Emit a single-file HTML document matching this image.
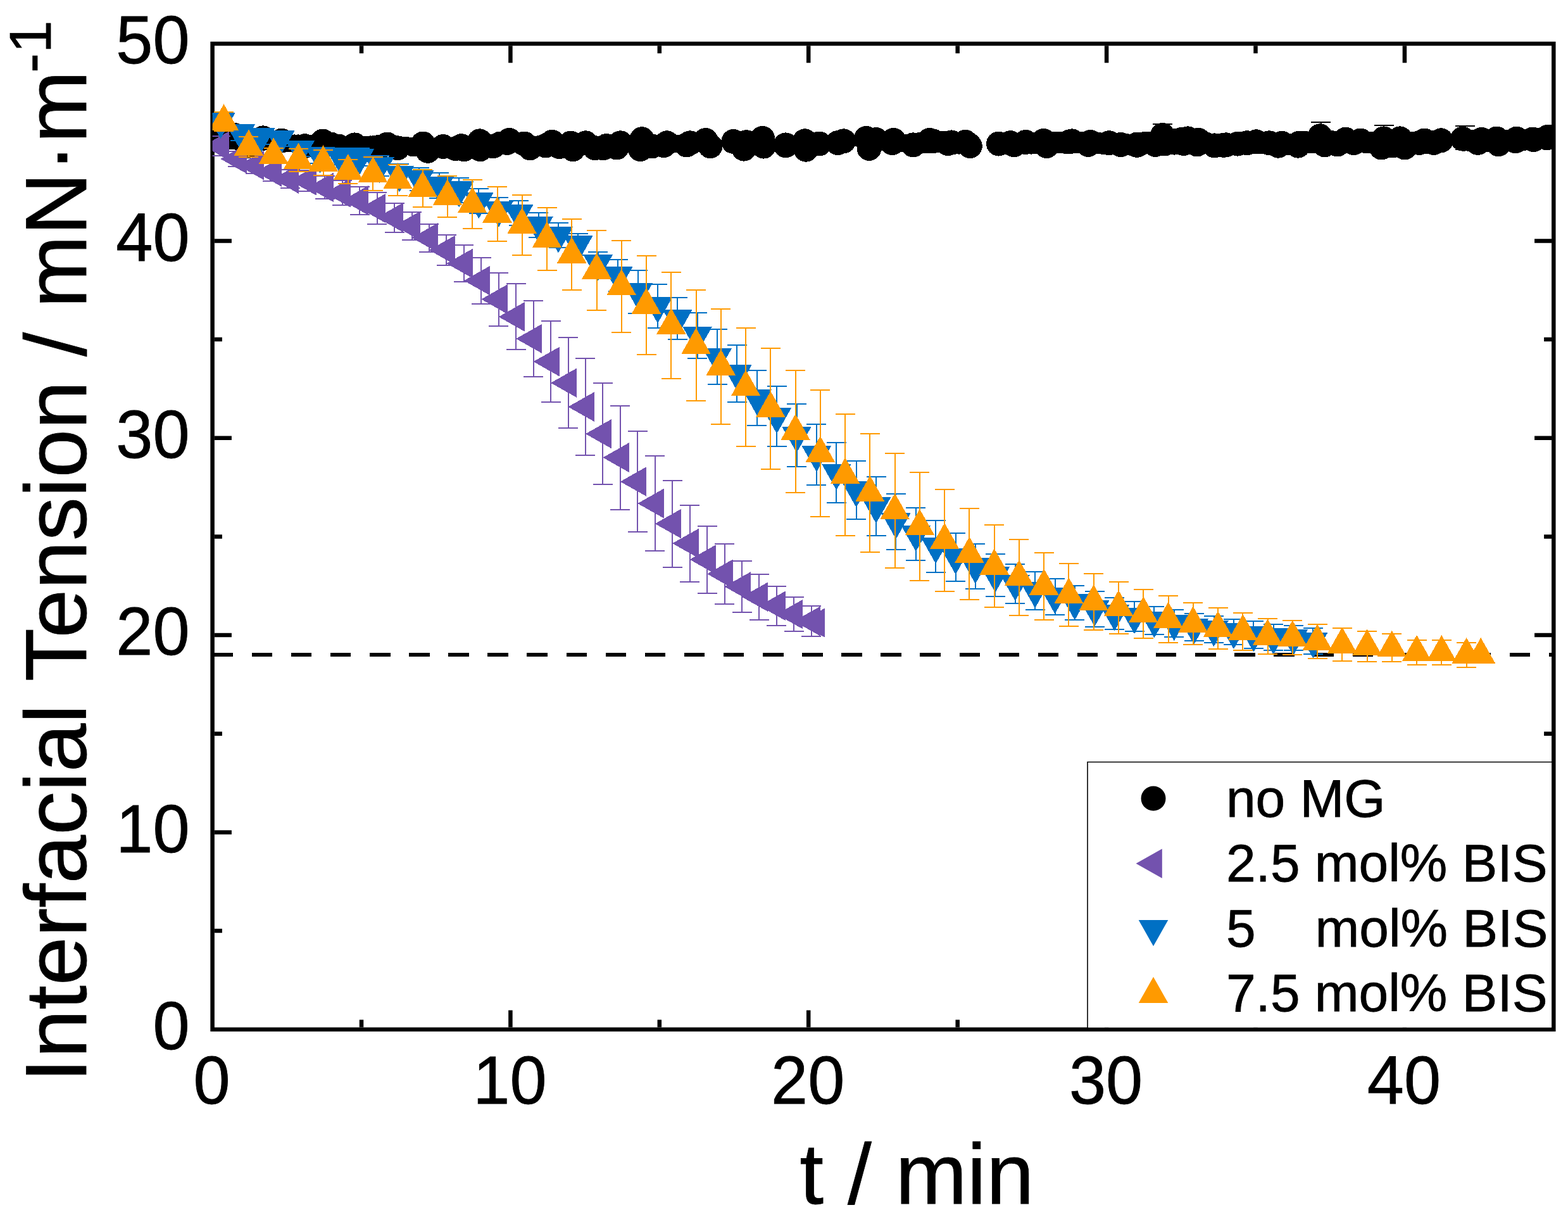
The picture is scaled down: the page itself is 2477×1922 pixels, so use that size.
<!DOCTYPE html>
<html><head><meta charset="utf-8"><title>Interfacial Tension vs time</title>
<style>html,body{margin:0;padding:0;background:#fff;overflow:hidden}svg{display:block}</style>
</head><body><svg width="2477" height="1922" viewBox="0 0 2477 1922"><defs><clipPath id="cp"><rect x="335.6" y="69.0" width="2118.7000000000003" height="1556.8"/></clipPath></defs><g stroke="#000" stroke-width="6.5" fill="none" stroke-linecap="square"><rect x="335.6" y="69.0" width="2118.7" height="1556.8" stroke-linecap="butt"/><path d="M571.0 1622.5v-12M571.0 72.2v12M806.4 1622.5v-27M806.4 72.2v27M1041.8 1622.5v-12M1041.8 72.2v12M1277.2 1622.5v-27M1277.2 72.2v27M1512.7 1622.5v-12M1512.7 72.2v12M1748.1 1622.5v-27M1748.1 72.2v27M1983.5 1622.5v-12M1983.5 72.2v12M2218.9 1622.5v-27M2218.9 72.2v27M338.9 1470.1h12M2451.1 1470.1h-12M338.9 1314.4h27M2451.1 1314.4h-27M338.9 1158.8h12M2451.1 1158.8h-12M338.9 1003.1h27M2451.1 1003.1h-27M338.9 847.4h12M2451.1 847.4h-12M338.9 691.7h27M2451.1 691.7h-27M338.9 536.0h12M2451.1 536.0h-12M338.9 380.4h27M2451.1 380.4h-27M338.9 224.7h12M2451.1 224.7h-12" stroke-linecap="butt"/></g><g clip-path="url(#cp)" shape-rendering="crispEdges"><line x1="335.6" y1="1033.9" x2="2454.3" y2="1033.9" stroke="#000" stroke-width="5.6" stroke-dasharray="32.5 29.6"/><path d="M1836.5 196.3V216.3M1821.0 196.3h31.0M2086.7 193.0V213.0M2071.2 193.0h31.0M2186.0 197.9V217.9M2170.5 197.9h31.0M2314.5 198.6V236.2M2299.0 198.6h31.0M2299.0 236.2h31.0" stroke="#000" stroke-width="2.0" fill="none"/><g fill="#000"><polygon points="369.8,213.3 415.6,217.9 444.9,222.1 481.5,230.7 509.9,223.0 560.3,228.9 611.6,228.0 668.3,227.0 728.8,230.7 757.7,222.8 804.4,221.5 828.2,227.0 872.2,224.3 901.5,226.1 925.3,225.8 980.2,225.8 1014.1,219.7 1053.5,225.8 1090.1,225.8 1114.8,221.5 1158.8,223.4 1178.9,224.7 1204.5,218.4 1241.2,229.8 1271.4,222.8 1294.3,227.0 1332.7,222.8 1368.5,218.4 1384.0,220.6 1411.5,221.5 1442.6,228.9 1468.3,221.5 1503.0,224.9 1525.0,224.4 1532.3,230.6 1497.5,226.6 1473.8,222.8 1442.6,228.9 1409.7,225.6 1373.0,234.4 1323.6,225.6 1273.2,236.2 1241.2,228.9 1206.4,231.1 1175.2,235.1 1122.1,230.7 1084.6,228.9 1011.4,235.7 952.7,233.8 905.1,235.7 837.4,233.8 758.6,235.7 733.0,235.7 719.6,234.7 675.7,238.3 628.0,233.8 390.0,231.0"/><polygon points="1577.5,227.0 1596.4,225.7 1620.2,224.4 1648.6,222.5 1689.8,223.8 1722.7,224.4 1752.0,225.7 1770.4,228.6 1796.0,228.0 1836.3,213.4 1865.6,220.7 1876.5,218.9 1893.0,221.3 1933.3,229.3 1955.2,227.1 1984.5,223.8 2024.8,226.2 2052.3,226.2 2085.3,214.8 2125.6,220.2 2149.4,222.0 2186.0,218.9 2211.6,218.9 2250.1,222.0 2276.4,221.8 2310.5,219.2 2340.3,220.4 2364.4,219.0 2395.6,219.2 2422.6,220.7 2445.3,216.1 2443.9,217.9 2421.2,220.0 2394.2,222.8 2367.2,227.8 2334.6,225.4 2265.0,225.4 2253.8,223.8 2242.3,225.4 2219.0,233.0 2182.3,233.0 2138.4,225.7 2112.7,228.0 2092.6,228.8 2050.5,230.2 2019.3,230.2 1969.9,225.7 1936.9,228.8 1918.6,229.9 1891.1,228.0 1854.6,225.1 1825.3,228.4 1796.0,229.3 1770.4,228.4 1719.1,228.4 1693.4,222.9 1653.2,230.6 1601.9,228.8"/><circle cx="345.0" cy="213.3" r="14.0"/><circle cx="351.0" cy="213.3" r="14.0"/><circle cx="357.0" cy="213.3" r="14.0"/><circle cx="363.0" cy="222.2" r="14.0"/><circle cx="369.0" cy="222.2" r="14.0"/><circle cx="375.0" cy="222.2" r="14.0"/><circle cx="381.0" cy="222.2" r="14.0"/><circle cx="387.0" cy="220.7" r="14.0"/><circle cx="393.0" cy="220.7" r="14.0"/><circle cx="399.0" cy="220.7" r="14.0"/><circle cx="405.0" cy="224.4" r="14.0"/><circle cx="411.0" cy="224.4" r="14.0"/><circle cx="417.0" cy="223.7" r="14.0"/><circle cx="423.0" cy="220.0" r="14.0"/><circle cx="429.0" cy="220.0" r="14.0"/><circle cx="435.0" cy="220.0" r="14.0"/><circle cx="441.0" cy="220.0" r="14.0"/><circle cx="447.0" cy="222.1" r="14.0"/><circle cx="453.0" cy="226.4" r="14.0"/><circle cx="459.0" cy="226.4" r="14.0"/><circle cx="465.0" cy="226.4" r="14.0"/><circle cx="471.0" cy="226.4" r="14.0"/><circle cx="477.0" cy="230.7" r="14.0"/><circle cx="483.0" cy="226.8" r="14.0"/><circle cx="489.0" cy="226.8" r="14.0"/><circle cx="495.0" cy="226.8" r="14.0"/><circle cx="501.0" cy="226.8" r="14.0"/><circle cx="507.0" cy="226.8" r="14.0"/><circle cx="513.0" cy="223.0" r="14.0"/><circle cx="519.0" cy="223.0" r="14.0"/><circle cx="525.0" cy="223.0" r="14.0"/><circle cx="531.0" cy="225.9" r="14.0"/><circle cx="537.0" cy="225.9" r="14.0"/><circle cx="543.0" cy="228.9" r="14.0"/><circle cx="549.0" cy="228.9" r="14.0"/><circle cx="555.0" cy="228.9" r="14.0"/><circle cx="561.0" cy="228.9" r="14.0"/><circle cx="567.0" cy="228.9" r="14.0"/><circle cx="573.0" cy="228.9" r="14.0"/><circle cx="579.0" cy="228.9" r="14.0"/><circle cx="585.0" cy="228.4" r="14.0"/><circle cx="591.0" cy="228.0" r="14.0"/><circle cx="597.0" cy="228.0" r="14.0"/><circle cx="603.0" cy="230.9" r="14.0"/><circle cx="609.0" cy="230.9" r="14.0"/><circle cx="615.0" cy="230.9" r="14.0"/><circle cx="621.0" cy="230.9" r="14.0"/><circle cx="627.0" cy="230.9" r="14.0"/><circle cx="633.0" cy="230.9" r="14.0"/><circle cx="639.0" cy="229.6" r="14.0"/><circle cx="645.0" cy="230.4" r="14.0"/><circle cx="651.0" cy="233.0" r="14.0"/><circle cx="657.0" cy="233.0" r="14.0"/><circle cx="663.0" cy="232.7" r="14.0"/><circle cx="669.0" cy="232.7" r="14.0"/><circle cx="675.0" cy="232.7" r="14.0"/><circle cx="681.0" cy="232.7" r="14.0"/><circle cx="687.0" cy="232.7" r="14.0"/><circle cx="693.0" cy="233.3" r="14.0"/><circle cx="699.0" cy="234.6" r="14.0"/><circle cx="705.0" cy="234.9" r="14.0"/><circle cx="711.0" cy="233.7" r="14.0"/><circle cx="717.0" cy="233.7" r="14.0"/><circle cx="723.0" cy="233.7" r="14.0"/><circle cx="729.0" cy="231.9" r="14.0"/><circle cx="735.0" cy="231.9" r="14.0"/><circle cx="741.0" cy="231.9" r="14.0"/><circle cx="747.0" cy="231.9" r="14.0"/><circle cx="753.0" cy="231.2" r="14.0"/><circle cx="759.0" cy="231.4" r="14.0"/><circle cx="765.0" cy="229.2" r="14.0"/><circle cx="771.0" cy="229.2" r="14.0"/><circle cx="777.0" cy="226.7" r="14.0"/><circle cx="783.0" cy="226.7" r="14.0"/><circle cx="789.0" cy="221.5" r="14.0"/><circle cx="795.0" cy="221.5" r="14.0"/><circle cx="801.0" cy="224.2" r="14.0"/><circle cx="807.0" cy="224.2" r="14.0"/><circle cx="813.0" cy="227.4" r="14.0"/><circle cx="819.0" cy="227.4" r="14.0"/><circle cx="825.0" cy="227.4" r="14.0"/><circle cx="831.0" cy="227.4" r="14.0"/><circle cx="837.0" cy="230.4" r="14.0"/><circle cx="843.0" cy="228.4" r="14.0"/><circle cx="849.0" cy="228.4" r="14.0"/><circle cx="855.0" cy="228.4" r="14.0"/><circle cx="861.0" cy="229.1" r="14.0"/><circle cx="867.0" cy="229.1" r="14.0"/><circle cx="873.0" cy="225.2" r="14.0"/><circle cx="879.0" cy="228.7" r="14.0"/><circle cx="885.0" cy="228.7" r="14.0"/><circle cx="891.0" cy="228.7" r="14.0"/><circle cx="897.0" cy="228.0" r="14.0"/><circle cx="903.0" cy="229.2" r="14.0"/><circle cx="909.0" cy="229.2" r="14.0"/><circle cx="915.0" cy="229.2" r="14.0"/><circle cx="921.0" cy="229.2" r="14.0"/><circle cx="927.0" cy="230.3" r="14.0"/><circle cx="933.0" cy="231.8" r="14.0"/><circle cx="939.0" cy="229.8" r="14.0"/><circle cx="945.0" cy="229.8" r="14.0"/><circle cx="951.0" cy="228.5" r="14.0"/><circle cx="957.0" cy="229.8" r="14.0"/><circle cx="963.0" cy="229.8" r="14.0"/><circle cx="969.0" cy="229.8" r="14.0"/><circle cx="975.0" cy="229.8" r="14.0"/><circle cx="981.0" cy="229.8" r="14.0"/><circle cx="987.0" cy="227.1" r="14.0"/><circle cx="993.0" cy="227.1" r="14.0"/><circle cx="999.0" cy="227.1" r="14.0"/><circle cx="1005.0" cy="227.1" r="14.0"/><circle cx="1011.0" cy="227.7" r="14.0"/><circle cx="1017.0" cy="227.7" r="14.0"/><circle cx="1023.0" cy="227.7" r="14.0"/><circle cx="1029.0" cy="227.1" r="14.0"/><circle cx="1035.0" cy="227.1" r="14.0"/><circle cx="1041.0" cy="227.1" r="14.0"/><circle cx="1047.0" cy="225.8" r="14.0"/><circle cx="1053.0" cy="225.8" r="14.0"/><circle cx="1059.0" cy="227.4" r="14.0"/><circle cx="1065.0" cy="226.8" r="14.0"/><circle cx="1071.0" cy="226.8" r="14.0"/><circle cx="1077.0" cy="226.8" r="14.0"/><circle cx="1083.0" cy="226.8" r="14.0"/><circle cx="1089.0" cy="225.4" r="14.0"/><circle cx="1095.0" cy="226.7" r="14.0"/><circle cx="1101.0" cy="226.7" r="14.0"/><circle cx="1107.0" cy="226.7" r="14.0"/><circle cx="1113.0" cy="226.7" r="14.0"/><circle cx="1119.0" cy="226.0" r="14.0"/><circle cx="1125.0" cy="226.1" r="14.0"/><circle cx="1155.0" cy="227.7" r="14.0"/><circle cx="1161.0" cy="227.7" r="14.0"/><circle cx="1167.0" cy="227.7" r="14.0"/><circle cx="1173.0" cy="227.7" r="14.0"/><circle cx="1179.0" cy="226.5" r="14.0"/><circle cx="1185.0" cy="226.5" r="14.0"/><circle cx="1191.0" cy="227.3" r="14.0"/><circle cx="1197.0" cy="227.3" r="14.0"/><circle cx="1203.0" cy="227.3" r="14.0"/><circle cx="1209.0" cy="224.8" r="14.0"/><circle cx="1239.0" cy="229.4" r="14.0"/><circle cx="1245.0" cy="229.4" r="14.0"/><circle cx="1251.0" cy="229.4" r="14.0"/><circle cx="1257.0" cy="229.4" r="14.0"/><circle cx="1263.0" cy="229.4" r="14.0"/><circle cx="1269.0" cy="228.9" r="14.0"/><circle cx="1275.0" cy="228.7" r="14.0"/><circle cx="1281.0" cy="228.7" r="14.0"/><circle cx="1287.0" cy="228.7" r="14.0"/><circle cx="1323.0" cy="225.1" r="14.0"/><circle cx="1329.0" cy="224.2" r="14.0"/><circle cx="1335.0" cy="224.2" r="14.0"/><circle cx="1365.0" cy="224.5" r="14.0"/><circle cx="1371.0" cy="224.5" r="14.0"/><circle cx="1377.0" cy="224.5" r="14.0"/><circle cx="1383.0" cy="224.1" r="14.0"/><circle cx="1389.0" cy="224.1" r="14.0"/><circle cx="1395.0" cy="224.1" r="14.0"/><circle cx="1401.0" cy="225.5" r="14.0"/><circle cx="1407.0" cy="222.6" r="14.0"/><circle cx="1413.0" cy="225.1" r="14.0"/><circle cx="1419.0" cy="226.2" r="14.0"/><circle cx="1425.0" cy="226.2" r="14.0"/><circle cx="1431.0" cy="226.2" r="14.0"/><circle cx="1437.0" cy="226.2" r="14.0"/><circle cx="1443.0" cy="226.4" r="14.0"/><circle cx="1449.0" cy="225.5" r="14.0"/><circle cx="1455.0" cy="225.5" r="17.0"/><circle cx="1461.0" cy="225.5" r="17.0"/><circle cx="1467.0" cy="225.5" r="17.0"/><circle cx="1473.0" cy="223.6" r="17.0"/><circle cx="1479.0" cy="223.9" r="17.0"/><circle cx="1485.0" cy="223.9" r="17.0"/><circle cx="1491.0" cy="223.9" r="17.0"/><circle cx="1497.0" cy="224.0" r="17.0"/><circle cx="1503.0" cy="225.9" r="17.0"/><circle cx="1509.0" cy="226.6" r="17.0"/><circle cx="1515.0" cy="226.6" r="17.0"/><circle cx="1521.0" cy="226.6" r="17.0"/><circle cx="1527.0" cy="226.6" r="17.0"/><circle cx="1533.0" cy="227.5" r="17.0"/><circle cx="1575.0" cy="227.2" r="17.0"/><circle cx="1581.0" cy="227.2" r="17.0"/><circle cx="1587.0" cy="227.2" r="17.0"/><circle cx="1593.0" cy="226.5" r="17.0"/><circle cx="1599.0" cy="226.5" r="17.0"/><circle cx="1605.0" cy="226.5" r="17.0"/><circle cx="1611.0" cy="226.3" r="17.0"/><circle cx="1617.0" cy="226.3" r="17.0"/><circle cx="1623.0" cy="225.3" r="17.0"/><circle cx="1629.0" cy="226.6" r="17.0"/><circle cx="1635.0" cy="225.8" r="17.0"/><circle cx="1641.0" cy="225.8" r="17.0"/><circle cx="1647.0" cy="225.8" r="17.0"/><circle cx="1653.0" cy="226.6" r="17.0"/><circle cx="1659.0" cy="226.6" r="17.0"/><circle cx="1665.0" cy="225.0" r="17.0"/><circle cx="1671.0" cy="225.0" r="17.0"/><circle cx="1677.0" cy="225.0" r="17.0"/><circle cx="1683.0" cy="225.8" r="17.0"/><circle cx="1689.0" cy="223.4" r="17.0"/><circle cx="1695.0" cy="224.9" r="17.0"/><circle cx="1701.0" cy="224.9" r="17.0"/><circle cx="1707.0" cy="224.9" r="17.0"/><circle cx="1713.0" cy="224.9" r="17.0"/><circle cx="1719.0" cy="224.9" r="17.0"/><circle cx="1725.0" cy="226.2" r="17.0"/><circle cx="1731.0" cy="226.2" r="17.0"/><circle cx="1737.0" cy="226.2" r="17.0"/><circle cx="1743.0" cy="227.1" r="17.0"/><circle cx="1749.0" cy="227.1" r="17.0"/><circle cx="1755.0" cy="227.6" r="17.0"/><circle cx="1761.0" cy="227.6" r="17.0"/><circle cx="1767.0" cy="228.0" r="17.0"/><circle cx="1773.0" cy="228.0" r="17.0"/><circle cx="1779.0" cy="228.0" r="17.0"/><circle cx="1785.0" cy="228.6" r="17.0"/><circle cx="1791.0" cy="228.6" r="17.0"/><circle cx="1797.0" cy="228.5" r="17.0"/><circle cx="1803.0" cy="228.6" r="17.0"/><circle cx="1809.0" cy="224.8" r="17.0"/><circle cx="1815.0" cy="224.8" r="17.0"/><circle cx="1821.0" cy="224.8" r="17.0"/><circle cx="1827.0" cy="222.3" r="17.0"/><circle cx="1833.0" cy="222.3" r="17.0"/><circle cx="1839.0" cy="221.9" r="17.0"/><circle cx="1845.0" cy="221.9" r="17.0"/><circle cx="1851.0" cy="221.3" r="17.0"/><circle cx="1857.0" cy="219.5" r="17.0"/><circle cx="1863.0" cy="221.2" r="17.0"/><circle cx="1869.0" cy="222.8" r="17.0"/><circle cx="1875.0" cy="222.8" r="17.0"/><circle cx="1881.0" cy="222.8" r="17.0"/><circle cx="1887.0" cy="222.2" r="17.0"/><circle cx="1893.0" cy="223.8" r="17.0"/><circle cx="1899.0" cy="224.5" r="17.0"/><circle cx="1905.0" cy="225.5" r="17.0"/><circle cx="1911.0" cy="227.5" r="17.0"/><circle cx="1917.0" cy="227.5" r="17.0"/><circle cx="1923.0" cy="229.3" r="17.0"/><circle cx="1929.0" cy="228.8" r="17.0"/><circle cx="1935.0" cy="228.8" r="17.0"/><circle cx="1941.0" cy="228.2" r="17.0"/><circle cx="1947.0" cy="228.2" r="17.0"/><circle cx="1953.0" cy="227.7" r="17.0"/><circle cx="1959.0" cy="226.9" r="17.0"/><circle cx="1965.0" cy="226.3" r="17.0"/><circle cx="1971.0" cy="225.5" r="17.0"/><circle cx="1977.0" cy="225.5" r="17.0"/><circle cx="1983.0" cy="225.5" r="17.0"/><circle cx="1989.0" cy="224.8" r="17.0"/><circle cx="1995.0" cy="226.5" r="17.0"/><circle cx="2001.0" cy="226.7" r="17.0"/><circle cx="2007.0" cy="226.7" r="17.0"/><circle cx="2013.0" cy="226.7" r="17.0"/><circle cx="2019.0" cy="228.2" r="17.0"/><circle cx="2025.0" cy="228.2" r="17.0"/><circle cx="2031.0" cy="228.2" r="17.0"/><circle cx="2037.0" cy="228.2" r="17.0"/><circle cx="2043.0" cy="228.2" r="17.0"/><circle cx="2049.0" cy="228.2" r="17.0"/><circle cx="2055.0" cy="228.2" r="17.0"/><circle cx="2061.0" cy="223.7" r="17.0"/><circle cx="2067.0" cy="225.0" r="17.0"/><circle cx="2073.0" cy="225.0" r="17.0"/><circle cx="2079.0" cy="225.0" r="17.0"/><circle cx="2085.0" cy="223.9" r="17.0"/><circle cx="2091.0" cy="223.9" r="17.0"/><circle cx="2097.0" cy="222.9" r="17.0"/><circle cx="2103.0" cy="222.9" r="17.0"/><circle cx="2109.0" cy="223.5" r="17.0"/><circle cx="2115.0" cy="223.5" r="17.0"/><circle cx="2121.0" cy="224.9" r="17.0"/><circle cx="2127.0" cy="224.0" r="17.0"/><circle cx="2133.0" cy="224.0" r="17.0"/><circle cx="2139.0" cy="224.0" r="17.0"/><circle cx="2145.0" cy="222.6" r="17.0"/><circle cx="2151.0" cy="222.6" r="17.0"/><circle cx="2157.0" cy="224.9" r="17.0"/><circle cx="2163.0" cy="224.9" r="17.0"/><circle cx="2169.0" cy="224.6" r="17.0"/><circle cx="2175.0" cy="224.6" r="17.0"/><circle cx="2181.0" cy="225.9" r="17.0"/><circle cx="2187.0" cy="223.6" r="17.0"/><circle cx="2193.0" cy="225.9" r="17.0"/><circle cx="2199.0" cy="225.9" r="17.0"/><circle cx="2205.0" cy="225.9" r="17.0"/><circle cx="2211.0" cy="225.9" r="17.0"/><circle cx="2217.0" cy="225.8" r="17.0"/><circle cx="2223.0" cy="224.8" r="17.0"/><circle cx="2229.0" cy="224.6" r="17.0"/><circle cx="2235.0" cy="224.6" r="17.0"/><circle cx="2241.0" cy="224.8" r="17.0"/><circle cx="2247.0" cy="225.2" r="17.0"/><circle cx="2253.0" cy="223.7" r="17.0"/><circle cx="2259.0" cy="223.7" r="17.0"/><circle cx="2265.0" cy="223.7" r="17.0"/><circle cx="2271.0" cy="223.7" r="17.0"/><circle cx="2277.0" cy="223.2" r="17.0"/><circle cx="2313.0" cy="221.7" r="17.0"/><circle cx="2319.0" cy="221.7" r="17.0"/><circle cx="2325.0" cy="221.7" r="17.0"/><circle cx="2331.0" cy="221.7" r="17.0"/><circle cx="2337.0" cy="221.0" r="17.0"/><circle cx="2343.0" cy="223.1" r="17.0"/><circle cx="2349.0" cy="223.1" r="17.0"/><circle cx="2355.0" cy="223.1" r="17.0"/><circle cx="2361.0" cy="223.1" r="17.0"/><circle cx="2367.0" cy="221.8" r="17.0"/><circle cx="2373.0" cy="222.2" r="17.0"/><circle cx="2379.0" cy="222.2" r="17.0"/><circle cx="2385.0" cy="222.2" r="17.0"/><circle cx="2391.0" cy="222.2" r="17.0"/><circle cx="2397.0" cy="222.1" r="17.0"/><circle cx="2403.0" cy="220.7" r="17.0"/><circle cx="2409.0" cy="220.7" r="17.0"/><circle cx="2415.0" cy="220.1" r="17.0"/><circle cx="2421.0" cy="219.5" r="17.0"/><circle cx="2427.0" cy="218.7" r="17.0"/><circle cx="2433.0" cy="218.7" r="17.0"/><circle cx="2439.0" cy="218.7" r="17.0"/><circle cx="2445.0" cy="218.7" r="17.0"/><circle cx="2451.0" cy="218.7" r="17.0"/><circle cx="369.8" cy="213.3" r="19.5"/><circle cx="390.0" cy="231.0" r="19.5"/><circle cx="415.6" cy="217.9" r="19.5"/><circle cx="444.9" cy="222.1" r="19.5"/><circle cx="481.5" cy="230.7" r="19.5"/><circle cx="509.9" cy="223.0" r="19.5"/><circle cx="560.3" cy="228.9" r="19.5"/><circle cx="600.0" cy="232.0" r="19.5"/><circle cx="611.6" cy="228.0" r="19.5"/><circle cx="628.0" cy="233.8" r="19.5"/><circle cx="668.3" cy="227.0" r="19.5"/><circle cx="675.7" cy="238.3" r="19.5"/><circle cx="700.0" cy="231.5" r="19.5"/><circle cx="719.6" cy="234.7" r="19.5"/><circle cx="728.8" cy="230.7" r="19.5"/><circle cx="733.0" cy="235.7" r="19.5"/><circle cx="757.7" cy="222.8" r="19.5"/><circle cx="758.6" cy="235.7" r="19.5"/><circle cx="779.0" cy="230.9" r="19.5"/><circle cx="801.0" cy="225.5" r="19.5"/><circle cx="804.4" cy="221.5" r="19.5"/><circle cx="828.2" cy="227.0" r="19.5"/><circle cx="837.4" cy="233.8" r="19.5"/><circle cx="862.0" cy="230.0" r="19.5"/><circle cx="872.2" cy="224.3" r="19.5"/><circle cx="883.6" cy="231.6" r="19.5"/><circle cx="901.5" cy="226.1" r="19.5"/><circle cx="905.1" cy="235.7" r="19.5"/><circle cx="925.3" cy="225.8" r="19.5"/><circle cx="940.0" cy="233.7" r="19.5"/><circle cx="952.7" cy="233.8" r="19.5"/><circle cx="958.0" cy="230.5" r="19.5"/><circle cx="974.3" cy="233.0" r="19.5"/><circle cx="980.2" cy="225.8" r="19.5"/><circle cx="1011.4" cy="235.7" r="19.5"/><circle cx="1014.1" cy="219.7" r="19.5"/><circle cx="1030.0" cy="231.0" r="19.5"/><circle cx="1048.5" cy="229.5" r="19.5"/><circle cx="1053.5" cy="225.8" r="19.5"/><circle cx="1084.6" cy="228.9" r="19.5"/><circle cx="1090.1" cy="225.8" r="19.5"/><circle cx="1114.8" cy="221.5" r="19.5"/><circle cx="1122.1" cy="230.7" r="19.5"/><circle cx="1158.8" cy="223.4" r="19.5"/><circle cx="1175.2" cy="235.1" r="19.5"/><circle cx="1178.9" cy="224.7" r="19.5"/><circle cx="1204.5" cy="218.4" r="19.5"/><circle cx="1206.4" cy="231.1" r="19.5"/><circle cx="1241.2" cy="228.9" r="19.5"/><circle cx="1241.2" cy="229.8" r="19.5"/><circle cx="1271.4" cy="222.8" r="19.5"/><circle cx="1273.2" cy="236.2" r="19.5"/><circle cx="1294.3" cy="227.0" r="19.5"/><circle cx="1323.6" cy="225.6" r="19.5"/><circle cx="1332.7" cy="222.8" r="19.5"/><circle cx="1368.5" cy="218.4" r="19.5"/><circle cx="1373.0" cy="234.4" r="19.5"/><circle cx="1384.0" cy="220.6" r="19.5"/><circle cx="1409.7" cy="225.6" r="19.5"/><circle cx="1411.5" cy="221.5" r="19.5"/><circle cx="1442.6" cy="228.9" r="19.5"/><circle cx="1442.6" cy="228.9" r="19.5"/><circle cx="1468.3" cy="221.5" r="19.5"/><circle cx="1473.8" cy="222.8" r="19.5"/><circle cx="1497.5" cy="226.6" r="19.5"/><circle cx="1503.0" cy="224.9" r="19.5"/><circle cx="1525.0" cy="224.4" r="19.5"/><circle cx="1532.3" cy="230.6" r="19.5"/><circle cx="1577.5" cy="227.0" r="19.5"/><circle cx="1596.4" cy="225.7" r="19.5"/><circle cx="1601.9" cy="228.8" r="19.5"/><circle cx="1620.2" cy="224.4" r="19.5"/><circle cx="1648.6" cy="222.5" r="19.5"/><circle cx="1653.2" cy="230.6" r="19.5"/><circle cx="1689.8" cy="223.8" r="19.5"/><circle cx="1693.4" cy="222.9" r="19.5"/><circle cx="1719.1" cy="228.4" r="19.5"/><circle cx="1722.7" cy="224.4" r="19.5"/><circle cx="1752.0" cy="225.7" r="19.5"/><circle cx="1770.4" cy="228.4" r="19.5"/><circle cx="1770.4" cy="228.6" r="19.5"/><circle cx="1796.0" cy="228.0" r="19.5"/><circle cx="1796.0" cy="229.3" r="19.5"/><circle cx="1825.3" cy="228.4" r="19.5"/><circle cx="1836.3" cy="213.4" r="19.5"/><circle cx="1840.0" cy="227.0" r="19.5"/><circle cx="1854.6" cy="225.1" r="19.5"/><circle cx="1865.6" cy="220.7" r="19.5"/><circle cx="1870.0" cy="226.5" r="19.5"/><circle cx="1876.5" cy="218.9" r="19.5"/><circle cx="1891.1" cy="228.0" r="19.5"/><circle cx="1893.0" cy="221.3" r="19.5"/><circle cx="1918.6" cy="229.9" r="19.5"/><circle cx="1933.3" cy="229.3" r="19.5"/><circle cx="1936.9" cy="228.8" r="19.5"/><circle cx="1955.2" cy="227.1" r="19.5"/><circle cx="1969.9" cy="225.7" r="19.5"/><circle cx="1984.5" cy="223.8" r="19.5"/><circle cx="2005.0" cy="225.8" r="19.5"/><circle cx="2019.3" cy="230.2" r="19.5"/><circle cx="2024.8" cy="226.2" r="19.5"/><circle cx="2050.5" cy="230.2" r="19.5"/><circle cx="2052.3" cy="226.2" r="19.5"/><circle cx="2085.3" cy="214.8" r="19.5"/><circle cx="2092.6" cy="228.8" r="19.5"/><circle cx="2112.7" cy="228.0" r="19.5"/><circle cx="2125.6" cy="220.2" r="19.5"/><circle cx="2138.4" cy="225.7" r="19.5"/><circle cx="2149.4" cy="222.0" r="19.5"/><circle cx="2182.3" cy="233.0" r="19.5"/><circle cx="2186.0" cy="218.9" r="19.5"/><circle cx="2200.0" cy="230.0" r="19.5"/><circle cx="2211.6" cy="218.9" r="19.5"/><circle cx="2219.0" cy="233.0" r="19.5"/><circle cx="2242.3" cy="225.4" r="19.5"/><circle cx="2250.1" cy="222.0" r="19.5"/><circle cx="2253.8" cy="223.8" r="19.5"/><circle cx="2265.0" cy="225.4" r="19.5"/><circle cx="2276.4" cy="221.8" r="19.5"/><circle cx="2310.5" cy="219.2" r="19.5"/><circle cx="2334.6" cy="225.4" r="19.5"/><circle cx="2340.3" cy="220.4" r="19.5"/><circle cx="2364.4" cy="219.0" r="19.5"/><circle cx="2367.2" cy="227.8" r="19.5"/><circle cx="2394.2" cy="222.8" r="19.5"/><circle cx="2395.6" cy="219.2" r="19.5"/><circle cx="2421.2" cy="220.0" r="19.5"/><circle cx="2422.6" cy="220.7" r="19.5"/><circle cx="2443.9" cy="217.9" r="19.5"/><circle cx="2445.3" cy="216.1" r="19.5"/></g><path d="M348.5 214.8V245.8M333.0 214.8h31.0M333.0 245.8h31.0M375.9 239.0V263.0M360.4 239.0h31.0M360.4 263.0h31.0M403.4 248.2V274.2M387.9 248.2h31.0M387.9 274.2h31.0M430.9 256.8V286.2M415.4 256.8h31.0M415.4 286.2h31.0M458.3 268.3V297.1M442.8 268.3h31.0M442.8 297.1h31.0M485.8 268.7V301.7M470.2 268.7h31.0M470.2 301.7h31.0M513.2 277.9V313.9M497.7 277.9h31.0M497.7 313.9h31.0M540.6 285.2V324.2M525.1 285.2h31.0M525.1 324.2h31.0M568.1 294.5V338.5M552.6 294.5h31.0M552.6 338.5h31.0M595.5 304.0V354.0M580.0 304.0h31.0M580.0 354.0h31.0M623.0 320.5V366.5M607.5 320.5h31.0M607.5 366.5h31.0M650.5 334.7V378.7M635.0 334.7h31.0M635.0 378.7h31.0M677.9 353.5V397.5M662.4 353.5h31.0M662.4 397.5h31.0M705.3 371.0V419.0M689.8 371.0h31.0M689.8 419.0h31.0M732.8 387.0V445.2M717.3 387.0h31.0M717.3 445.2h31.0M760.2 406.7V479.7M744.8 406.7h31.0M744.8 479.7h31.0M787.7 430.5V514.7M772.2 430.5h31.0M772.2 514.7h31.0M815.1 448.2V552.4M799.6 448.2h31.0M799.6 552.4h31.0M842.6 474.9V594.9M827.1 474.9h31.0M827.1 594.9h31.0M870.0 506.9V635.3M854.5 506.9h31.0M854.5 635.3h31.0M897.5 533.0V676.4M882.0 533.0h31.0M882.0 676.4h31.0M924.9 566.1V718.9M909.4 566.1h31.0M909.4 718.9h31.0M952.4 605.2V765.2M936.9 605.2h31.0M936.9 765.2h31.0M979.9 640.7V804.5M964.4 640.7h31.0M964.4 804.5h31.0M1007.3 681.0V840.2M991.8 681.0h31.0M991.8 840.2h31.0M1034.8 720.1V870.1M1019.2 720.1h31.0M1019.2 870.1h31.0M1062.2 758.7V895.5M1046.7 758.7h31.0M1046.7 895.5h31.0M1089.7 797.9V918.5M1074.2 797.9h31.0M1074.2 918.5h31.0M1117.1 830.5V936.9M1101.6 830.5h31.0M1101.6 936.9h31.0M1144.5 859.2V953.6M1129.0 859.2h31.0M1129.0 953.6h31.0M1172.0 885.8V967.0M1156.5 885.8h31.0M1156.5 967.0h31.0M1199.4 906.9V978.5M1183.9 906.9h31.0M1183.9 978.5h31.0M1226.9 926.0V987.6M1211.4 926.0h31.0M1211.4 987.6h31.0M1254.3 942.8V997.4M1238.8 942.8h31.0M1238.8 997.4h31.0M1281.8 956.6V1005.4M1266.3 956.6h31.0M1266.3 1005.4h31.0" stroke="#7352ae" stroke-width="2.0" fill="none"/><path d="M321.0 230.3L362.3 207.0V253.6ZM348.4 251.0L389.8 227.7V274.3ZM375.9 261.2L417.2 237.9V284.5ZM403.4 271.5L444.7 248.2V294.8ZM430.8 282.7L472.1 259.4V306.0ZM458.2 285.2L499.6 261.9V308.5ZM485.7 295.9L527.0 272.6V319.2ZM513.1 304.7L554.4 281.4V328.0ZM540.6 316.5L581.9 293.2V339.8ZM568.0 329.0L609.3 305.7V352.3ZM595.5 343.5L636.8 320.2V366.8ZM623.0 356.7L664.2 333.4V380.0ZM650.4 375.5L691.7 352.2V398.8ZM677.8 395.0L719.1 371.7V418.3ZM705.3 416.1L746.6 392.8V439.4ZM732.8 443.2L774.0 419.9V466.5ZM760.2 472.6L801.5 449.3V495.9ZM787.6 500.3L828.9 477.0V523.6ZM815.1 534.9L856.4 511.6V558.2ZM842.5 571.1L883.8 547.8V594.4ZM870.0 604.7L911.3 581.4V628.0ZM897.4 642.5L938.7 619.2V665.8ZM924.9 685.2L966.2 661.9V708.5ZM952.4 722.6L993.6 699.3V745.9ZM979.8 760.6L1021.1 737.3V783.9ZM1007.2 795.1L1048.5 771.8V818.4ZM1034.7 827.1L1076.0 803.8V850.4ZM1062.2 858.2L1103.5 834.9V881.5ZM1089.6 883.7L1130.9 860.4V907.0ZM1117.0 906.4L1158.3 883.1V929.7ZM1144.5 926.4L1185.8 903.1V949.7ZM1171.9 942.7L1213.2 919.4V966.0ZM1199.4 956.8L1240.7 933.5V980.1ZM1226.8 970.1L1268.1 946.8V993.4ZM1254.3 981.0L1295.6 957.7V1004.3ZM1262.0 983.6L1303.3 960.3V1006.9Z" fill="#7352ae"/><path d="M348.5 179.7V203.7M333.0 179.7h31.0M333.0 203.7h31.0M379.9 197.7V221.7M364.4 197.7h31.0M364.4 221.7h31.0M411.3 204.0V228.0M395.8 204.0h31.0M395.8 228.0h31.0M442.6 207.4V231.4M427.1 207.4h31.0M427.1 231.4h31.0M474.0 223.4V247.4M458.5 223.4h31.0M458.5 247.4h31.0M505.4 234.0V258.0M489.9 234.0h31.0M489.9 258.0h31.0M536.8 233.6V259.6M521.3 233.6h31.0M521.3 259.6h31.0M568.2 234.4V262.4M552.7 234.4h31.0M552.7 262.4h31.0M599.5 246.0V277.6M584.0 246.0h31.0M584.0 277.6h31.0M630.9 259.1V293.1M615.4 259.1h31.0M615.4 293.1h31.0M662.3 264.9V300.9M646.8 264.9h31.0M646.8 300.9h31.0M693.7 272.9V312.5M678.2 272.9h31.0M678.2 312.5h31.0M725.1 280.5V319.5M709.6 280.5h31.0M709.6 319.5h31.0M756.4 298.4V337.4M740.9 298.4h31.0M740.9 337.4h31.0M787.8 311.9V350.9M772.3 311.9h31.0M772.3 350.9h31.0M819.2 317.4V356.4M803.7 317.4h31.0M803.7 356.4h31.0M850.6 336.2V375.2M835.1 336.2h31.0M835.1 375.2h31.0M882.0 352.4V391.4M866.5 352.4h31.0M866.5 391.4h31.0M913.3 369.2V402.6M897.8 369.2h31.0M897.8 402.6h31.0M944.7 398.0V434.2M929.2 398.0h31.0M929.2 434.2h31.0M976.1 409.9V460.1M960.6 409.9h31.0M960.6 460.1h31.0M1007.5 427.1V495.1M992.0 427.1h31.0M992.0 495.1h31.0M1038.9 448.9V517.5M1023.4 448.9h31.0M1023.4 517.5h31.0M1070.2 470.1V536.1M1054.7 470.1h31.0M1054.7 536.1h31.0M1101.6 494.0V565.6M1086.1 494.0h31.0M1086.1 565.6h31.0M1133.0 519.8V607.0M1117.5 519.8h31.0M1117.5 607.0h31.0M1164.4 545.0V634.8M1148.9 545.0h31.0M1148.9 634.8h31.0M1195.8 584.8V672.0M1180.3 584.8h31.0M1180.3 672.0h31.0M1227.1 610.0V705.0M1211.6 610.0h31.0M1211.6 705.0h31.0M1258.5 637.9V737.1M1243.0 637.9h31.0M1243.0 737.1h31.0M1289.9 670.0V766.0M1274.4 670.0h31.0M1274.4 766.0h31.0M1321.3 699.1V793.9M1305.8 699.1h31.0M1305.8 793.9h31.0M1352.7 728.0V820.0M1337.2 728.0h31.0M1337.2 820.0h31.0M1384.0 752.5V845.9M1368.5 752.5h31.0M1368.5 845.9h31.0M1415.4 779.9V867.9M1399.9 779.9h31.0M1399.9 867.9h31.0M1446.8 802.3V884.9M1431.3 802.3h31.0M1431.3 884.9h31.0M1478.2 821.8V903.8M1462.7 821.8h31.0M1462.7 903.8h31.0M1509.6 841.6V918.0M1494.1 841.6h31.0M1494.1 918.0h31.0M1540.9 859.3V929.9M1525.4 859.3h31.0M1525.4 929.9h31.0M1572.3 874.9V941.7M1556.8 874.9h31.0M1556.8 941.7h31.0M1603.7 890.5V952.7M1588.2 890.5h31.0M1588.2 952.7h31.0M1635.1 902.7V963.1M1619.6 902.7h31.0M1619.6 963.1h31.0M1666.5 913.7V970.5M1651.0 913.7h31.0M1651.0 970.5h31.0M1697.8 924.9V978.9M1682.3 924.9h31.0M1682.3 978.9h31.0M1729.2 934.4V989.6M1713.7 934.4h31.0M1713.7 989.6h31.0M1760.6 944.0V994.0M1745.1 944.0h31.0M1745.1 994.0h31.0M1792.0 950.1V997.3M1776.5 950.1h31.0M1776.5 997.3h31.0M1823.4 957.5V1002.3M1807.9 957.5h31.0M1807.9 1002.3h31.0M1854.7 963.0V1006.4M1839.2 963.0h31.0M1839.2 1006.4h31.0M1886.1 968.5V1012.3M1870.6 968.5h31.0M1870.6 1012.3h31.0M1917.5 973.0V1014.6M1902.0 973.0h31.0M1902.0 1014.6h31.0M1948.9 977.7V1017.7M1933.4 977.7h31.0M1933.4 1017.7h31.0M1980.3 980.8V1023.8M1964.8 980.8h31.0M1964.8 1023.8h31.0M2011.6 985.9V1026.5M1996.1 985.9h31.0M1996.1 1026.5h31.0M2043.0 988.0V1027.4M2027.5 988.0h31.0M2027.5 1027.4h31.0M2074.4 991.7V1032.9M2058.9 991.7h31.0M2058.9 1032.9h31.0" stroke="#0070c4" stroke-width="2.0" fill="none"/><path d="M348.5 219.2L371.8 177.9H325.2ZM379.9 237.2L403.2 195.9H356.6ZM411.3 243.5L434.6 202.2H388.0ZM442.6 246.9L465.9 205.6H419.3ZM474.0 262.9L497.3 221.6H450.7ZM505.4 273.5L528.7 232.2H482.1ZM536.8 274.1L560.1 232.8H513.5ZM568.2 275.9L591.5 234.6H544.9ZM599.5 289.3L622.8 248.0H576.2ZM630.9 303.6L654.2 262.3H607.6ZM662.3 310.4L685.6 269.1H639.0ZM693.7 320.2L717.0 278.9H670.4ZM725.1 327.5L748.4 286.2H701.8ZM756.4 345.4L779.7 304.1H733.1ZM787.8 358.9L811.1 317.6H764.5ZM819.2 364.4L842.5 323.1H795.9ZM850.6 383.2L873.9 341.9H827.3ZM882.0 399.4L905.3 358.1H858.7ZM913.3 413.4L936.6 372.1H890.0ZM944.7 443.6L968.0 402.3H921.4ZM976.1 462.5L999.4 421.2H952.8ZM1007.5 488.6L1030.8 447.3H984.2ZM1038.9 510.7L1062.2 469.4H1015.6ZM1070.2 530.6L1093.5 489.3H1046.9ZM1101.6 557.3L1124.9 516.0H1078.3ZM1133.0 590.9L1156.3 549.6H1109.7ZM1164.4 617.4L1187.7 576.1H1141.1ZM1195.8 655.9L1219.1 614.6H1172.5ZM1227.1 685.0L1250.4 643.7H1203.8ZM1258.5 715.0L1281.8 673.7H1235.2ZM1289.9 745.5L1313.2 704.2H1266.6ZM1321.3 774.0L1344.6 732.7H1298.0ZM1352.7 801.5L1376.0 760.2H1329.4ZM1384.0 826.7L1407.3 785.4H1360.7ZM1415.4 851.4L1438.7 810.1H1392.1ZM1446.8 871.1L1470.1 829.8H1423.5ZM1478.2 890.3L1501.5 849.0H1454.9ZM1509.6 907.3L1532.9 866.0H1486.3ZM1540.9 922.1L1564.2 880.8H1517.6ZM1572.3 935.8L1595.6 894.5H1549.0ZM1603.7 949.1L1627.0 907.8H1580.4ZM1635.1 960.4L1658.4 919.1H1611.8ZM1666.5 969.6L1689.8 928.3H1643.2ZM1697.8 979.4L1721.1 938.1H1674.5ZM1729.2 989.5L1752.5 948.2H1705.9ZM1760.6 996.5L1783.9 955.2H1737.3ZM1792.0 1001.2L1815.3 959.9H1768.7ZM1823.4 1007.4L1846.7 966.1H1800.1ZM1854.7 1012.2L1878.0 970.9H1831.4ZM1886.1 1017.9L1909.4 976.6H1862.8ZM1917.5 1021.3L1940.8 980.0H1894.2ZM1948.9 1025.2L1972.2 983.9H1925.6ZM1980.3 1029.8L2003.6 988.5H1957.0ZM2011.6 1033.7L2034.9 992.4H1988.3ZM2043.0 1035.2L2066.3 993.9H2019.7ZM2074.4 1039.8L2097.7 998.5H2051.1Z" fill="#0070c4"/><path d="M353.6 176.7V206.7M338.1 176.7h31.0M338.1 206.7h31.0M392.9 215.9V247.9M377.4 215.9h31.0M377.4 247.9h31.0M432.1 233.8V255.8M416.6 233.8h31.0M416.6 255.8h31.0M471.4 234.9V270.9M455.9 234.9h31.0M455.9 270.9h31.0M510.6 236.7V276.7M495.1 236.7h31.0M495.1 276.7h31.0M549.9 251.5V289.5M534.4 251.5h31.0M534.4 289.5h31.0M589.2 247.9V301.1M573.7 247.9h31.0M573.7 301.1h31.0M628.4 260.2V309.0M612.9 260.2h31.0M612.9 309.0h31.0M667.7 267.9V326.7M652.2 267.9h31.0M652.2 326.7h31.0M706.9 277.9V343.1M691.4 277.9h31.0M691.4 343.1h31.0M746.2 283.7V361.3M730.7 283.7h31.0M730.7 361.3h31.0M785.5 294.5V381.1M770.0 294.5h31.0M770.0 381.1h31.0M824.7 307.9V402.5M809.2 307.9h31.0M809.2 402.5h31.0M864.0 327.8V426.8M848.5 327.8h31.0M848.5 426.8h31.0M903.2 345.8V457.8M887.7 345.8h31.0M887.7 457.8h31.0M942.5 364.0V489.6M927.0 364.0h31.0M927.0 489.6h31.0M981.8 380.1V524.7M966.3 380.1h31.0M966.3 524.7h31.0M1021.0 403.9V559.9M1005.5 403.9h31.0M1005.5 559.9h31.0M1060.3 430.4V597.6M1044.8 430.4h31.0M1044.8 597.6h31.0M1099.5 457.8V632.8M1084.0 457.8h31.0M1084.0 632.8h31.0M1138.8 488.1V669.9M1123.3 488.1h31.0M1123.3 669.9h31.0M1178.1 518.2V705.0M1162.6 518.2h31.0M1162.6 705.0h31.0M1217.3 549.7V740.7M1201.8 549.7h31.0M1201.8 740.7h31.0M1256.6 584.8V777.6M1241.1 584.8h31.0M1241.1 777.6h31.0M1295.8 616.1V816.1M1280.3 616.1h31.0M1280.3 816.1h31.0M1335.1 654.3V845.9M1319.6 654.3h31.0M1319.6 845.9h31.0M1374.4 685.4V871.8M1358.9 685.4h31.0M1358.9 871.8h31.0M1413.6 716.0V896.8M1398.1 716.0h31.0M1398.1 896.8h31.0M1452.9 745.8V917.0M1437.4 745.8h31.0M1437.4 917.0h31.0M1492.1 772.9V933.9M1476.6 772.9h31.0M1476.6 933.9h31.0M1531.4 802.9V947.3M1515.9 802.9h31.0M1515.9 947.3h31.0M1570.7 828.8V958.8M1555.2 828.8h31.0M1555.2 958.8h31.0M1609.9 851.6V971.6M1594.4 851.6h31.0M1594.4 971.6h31.0M1649.2 872.7V978.9M1633.7 872.7h31.0M1633.7 978.9h31.0M1688.4 890.4V988.8M1672.9 890.4h31.0M1672.9 988.8h31.0M1727.7 905.6V995.4M1712.2 905.6h31.0M1712.2 995.4h31.0M1767.0 918.5V1000.5M1751.5 918.5h31.0M1751.5 1000.5h31.0M1806.2 930.9V1007.9M1790.7 930.9h31.0M1790.7 1007.9h31.0M1845.5 941.0V1015.0M1830.0 941.0h31.0M1830.0 1015.0h31.0M1884.7 952.0V1017.8M1869.2 952.0h31.0M1869.2 1017.8h31.0M1924.0 960.1V1024.7M1908.5 960.1h31.0M1908.5 1024.7h31.0M1963.3 967.5V1027.1M1947.8 967.5h31.0M1947.8 1027.1h31.0M2002.5 977.0V1032.6M1987.0 977.0h31.0M1987.0 1032.6h31.0M2041.8 980.2V1033.8M2026.3 980.2h31.0M2026.3 1033.8h31.0M2081.0 985.9V1039.9M2065.5 985.9h31.0M2065.5 1039.9h31.0M2120.3 991.7V1043.9M2104.8 991.7h31.0M2104.8 1043.9h31.0M2159.6 997.2V1044.8M2144.1 997.2h31.0M2144.1 1044.8h31.0M2198.8 1001.2V1045.2M2183.3 1001.2h31.0M2183.3 1045.2h31.0M2238.1 1010.9V1049.9M2222.6 1010.9h31.0M2222.6 1049.9h31.0M2277.3 1010.9V1049.9M2261.8 1010.9h31.0M2261.8 1049.9h31.0M2316.6 1014.8V1054.0M2301.1 1014.8h31.0M2301.1 1054.0h31.0" stroke="#ff9a00" stroke-width="2.0" fill="none"/><path d="M353.6 164.2L376.9 205.5H330.3ZM392.9 204.4L416.2 245.7H369.6ZM432.1 217.3L455.4 258.6H408.8ZM471.4 225.4L494.7 266.7H448.1ZM510.6 229.2L533.9 270.5H487.3ZM549.9 243.0L573.2 284.3H526.6ZM589.2 247.0L612.5 288.3H565.9ZM628.4 257.1L651.7 298.4H605.1ZM667.7 269.8L691.0 311.1H644.4ZM706.9 283.0L730.2 324.3H683.6ZM746.2 295.0L769.5 336.3H722.9ZM785.5 310.3L808.8 351.6H762.2ZM824.7 327.7L848.0 369.0H801.4ZM864.0 349.8L887.3 391.1H840.7ZM903.2 374.3L926.5 415.6H879.9ZM942.5 399.3L965.8 440.6H919.2ZM981.8 424.9L1005.1 466.2H958.5ZM1021.0 454.4L1044.3 495.7H997.7ZM1060.3 486.5L1083.6 527.8H1037.0ZM1099.5 517.8L1122.8 559.1H1076.2ZM1138.8 551.5L1162.1 592.8H1115.5ZM1178.1 584.1L1201.4 625.4H1154.8ZM1217.3 617.7L1240.6 659.0H1194.0ZM1256.6 653.7L1279.9 695.0H1233.3ZM1295.8 688.6L1319.1 729.9H1272.5ZM1335.1 722.6L1358.4 763.9H1311.8ZM1374.4 751.1L1397.7 792.4H1351.1ZM1413.6 778.9L1436.9 820.2H1390.3ZM1452.9 803.9L1476.2 845.2H1429.6ZM1492.1 825.9L1515.4 867.2H1468.8ZM1531.4 847.6L1554.7 888.9H1508.1ZM1570.7 866.3L1594.0 907.6H1547.4ZM1609.9 884.1L1633.2 925.4H1586.6ZM1649.2 898.3L1672.5 939.6H1625.9ZM1688.4 912.1L1711.7 953.4H1665.1ZM1727.7 923.0L1751.0 964.3H1704.4ZM1767.0 932.0L1790.3 973.3H1743.7ZM1806.2 941.9L1829.5 983.2H1782.9ZM1845.5 950.5L1868.8 991.8H1822.2ZM1884.7 957.4L1908.0 998.7H1861.4ZM1924.0 964.9L1947.3 1006.2H1900.7ZM1963.3 969.8L1986.6 1011.1H1940.0ZM2002.5 977.3L2025.8 1018.6H1979.2ZM2041.8 979.5L2065.1 1020.8H2018.5ZM2081.0 985.4L2104.3 1026.7H2057.7ZM2120.3 990.3L2143.6 1031.6H2097.0ZM2159.6 993.5L2182.9 1034.8H2136.3ZM2198.8 995.7L2222.1 1037.0H2175.5ZM2238.1 1002.9L2261.4 1044.2H2214.8ZM2277.3 1002.9L2300.6 1044.2H2254.0ZM2316.6 1006.9L2339.9 1048.2H2293.3ZM2339.3 1007.1L2362.6 1048.4H2316.0Z" fill="#ff9a00"/></g><g font-family="Liberation Sans, Arial, sans-serif" stroke="#000" stroke-width="0.8" font-size="104.5" fill="#000"><text transform="translate(334.6,1742.9) scale(1,1.033)" text-anchor="middle">0</text><text transform="translate(805.4,1742.9) scale(1,1.033)" text-anchor="middle">10</text><text transform="translate(1276.2,1742.9) scale(1,1.033)" text-anchor="middle">20</text><text transform="translate(1747.1,1742.9) scale(1,1.033)" text-anchor="middle">30</text><text transform="translate(2217.9,1742.9) scale(1,1.033)" text-anchor="middle">40</text><text transform="translate(299.5,1657.1) scale(1,1.033)" text-anchor="end">0</text><text transform="translate(299.5,1345.7) scale(1,1.033)" text-anchor="end">10</text><text transform="translate(299.5,1034.4) scale(1,1.033)" text-anchor="end">20</text><text transform="translate(299.5,723.0) scale(1,1.033)" text-anchor="end">30</text><text transform="translate(299.5,411.7) scale(1,1.033)" text-anchor="end">40</text><text transform="translate(299.5,100.3) scale(1,1.033)" text-anchor="end">50</text></g><text x="1448.5" y="1900.8" font-family="Liberation Sans, Arial, sans-serif" stroke="#000" stroke-width="0.8" font-size="136" text-anchor="middle">t / min</text><text transform="translate(135.5,1709.5) rotate(-90)" font-family="Liberation Sans, Arial, sans-serif" stroke="#000" stroke-width="0.8" font-size="137.8">Interfacial Tension / mN·m</text><text transform="translate(80,115.0) rotate(-90)" font-family="Liberation Sans, Arial, sans-serif" stroke="#000" stroke-width="0.8" font-size="93">-1</text><rect x="1718" y="1203.5" width="733.05" height="419.05" fill="#fff"/><path d="M1718 1624V1203.5H2452" fill="none" stroke="#000" stroke-width="1.6"/><circle cx="1822" cy="1261" r="19.5" fill="#000"/><path d="M1794.5 1363.7L1835.8 1340.4V1387.0Z" fill="#7352ae"/><path d="M1822.0 1494.3L1845.3 1453.0H1798.7Z" fill="#0070c4"/><path d="M1822.0 1542.7L1845.3 1584.0H1798.7Z" fill="#ff9a00"/><g font-family="Liberation Sans, Arial, sans-serif" stroke="#000" stroke-width="0.8" font-size="83.8" fill="#000"><text x="1937" y="1290.2">no MG</text><text x="1937" y="1391.9">2.5 mol% BIS</text><text x="1937" y="1494.9">5</text><text x="2077.5" y="1494.9">mol% BIS</text><text x="1937" y="1596.7">7.5 mol% BIS</text></g></svg></body></html>
